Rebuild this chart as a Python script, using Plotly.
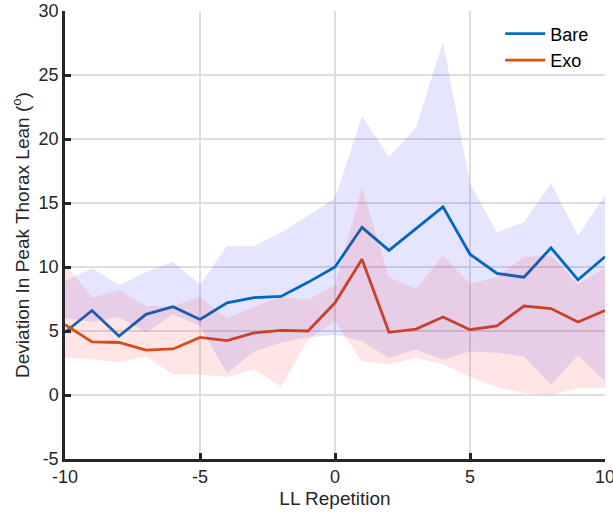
import plotly.graph_objects as go

reps = list(range(-10, 11))
x_ticks = [-10, -5, 0, 5, 10]
y_ticks = [-5, 0, 5, 10, 15, 20, 25, 30]

bare_mean = [4.9, 6.6, 4.6, 6.3, 6.9, 5.9, 7.2, 7.6, 7.7, 8.8, 10.0, 13.1, 11.3, 13.0, 14.7, 11.0, 9.5, 9.2, 11.5, 9.0, 10.8]
bare_upper = [8.9, 9.9, 8.6, 9.6, 10.4, 8.65, 11.65, 11.65, 12.7, 14.0, 15.4, 21.8, 18.6, 20.9, 27.6, 16.5, 12.7, 13.5, 16.55, 12.45, 15.6]
bare_lower = [6.0, 5.7, 6.1, 4.9, 6.3, 5.4, 1.7, 3.4, 4.1, 4.5, 4.7, 4.2, 2.9, 3.55, 2.75, 3.4, 3.3, 3.0, 0.8, 3.1, 1.06]

exo_mean = [5.5, 4.15, 4.1, 3.5, 3.6, 4.5, 4.25, 4.85, 5.05, 5.0, 7.2, 10.6, 4.9, 5.15, 6.1, 5.1, 5.4, 6.95, 6.75, 5.7, 6.6]
exo_upper = [10.3, 7.6, 8.2, 6.95, 6.95, 7.65, 6.0, 6.9, 7.65, 7.45, 8.6, 16.2, 9.2, 8.3, 10.9, 8.7, 9.2, 10.8, 10.9, 8.65, 9.95]
exo_lower = [2.95, 2.8, 2.55, 3.0, 1.6, 1.6, 1.4, 2.0, 0.65, 4.3, 5.8, 2.6, 2.4, 2.9, 2.4, 1.4, 0.6, 0.15, 0.0, 0.55, 0.55]

BLUE = "#0072BD"
RED = "#D95319"
FONT = "Liberation Sans, Arial, sans-serif"

fig = go.Figure()
fig.add_trace(go.Scatter(x=reps, y=bare_mean, mode="lines", name="Bare",
                         line=dict(color=BLUE, width=2.8)))
fig.add_trace(go.Scatter(x=reps, y=exo_mean, mode="lines", name="Exo",
                         line=dict(color=RED, width=2.8)))
fig.add_trace(go.Scatter(x=reps + reps[::-1], y=bare_upper + bare_lower[::-1],
                         fill="toself", fillcolor="rgba(0,0,255,0.1)",
                         line=dict(width=0), mode="lines", showlegend=False,
                         hoverinfo="skip"))
fig.add_trace(go.Scatter(x=reps + reps[::-1], y=exo_upper + exo_lower[::-1],
                         fill="toself", fillcolor="rgba(255,0,0,0.1)",
                         line=dict(width=0), mode="lines", showlegend=False,
                         hoverinfo="skip"))

fig.update_layout(
    width=613, height=512,
    margin=dict(l=65, r=8, t=11, b=53),
    paper_bgcolor="white", plot_bgcolor="white",
    font=dict(family=FONT, size=18, color="#262626"),
    showlegend=True,
    legend=dict(x=0.98, y=0.99, xanchor="right", yanchor="top",
                bgcolor="rgba(0,0,0,0)", font=dict(size=18, color="black"),
                tracegroupgap=0, itemwidth=40),
)
fig.update_xaxes(range=[-10, 10], tickvals=x_ticks, ticktext=[str(v) for v in x_ticks],
                 ticklabeloverflow="allow", automargin=False,
                 showgrid=True, gridcolor="rgb(222,222,222)", gridwidth=2,
                 showline=True, linecolor="#262626", linewidth=2.5,
                 ticks="inside", ticklen=6, tickwidth=2.5, tickcolor="#262626",
                 zeroline=False, mirror=False,
                 title=dict(text="LL Repetition", font=dict(size=19), standoff=6))
fig.update_yaxes(range=[-5, 30], tickvals=y_ticks, ticktext=[str(v) for v in y_ticks],
                 ticklabeloverflow="allow", automargin=False,
                 showgrid=True, gridcolor="rgb(222,222,222)", gridwidth=2,
                 showline=True, linecolor="#262626", linewidth=2.5,
                 ticks="inside", ticklen=6, tickwidth=2.5, tickcolor="#262626",
                 zeroline=False, mirror=False,
                 title=dict(text="Deviation In Peak Thorax Lean (<sup>o</sup>)",
                            font=dict(size=19), standoff=4))

fig.write_html("out.html")
